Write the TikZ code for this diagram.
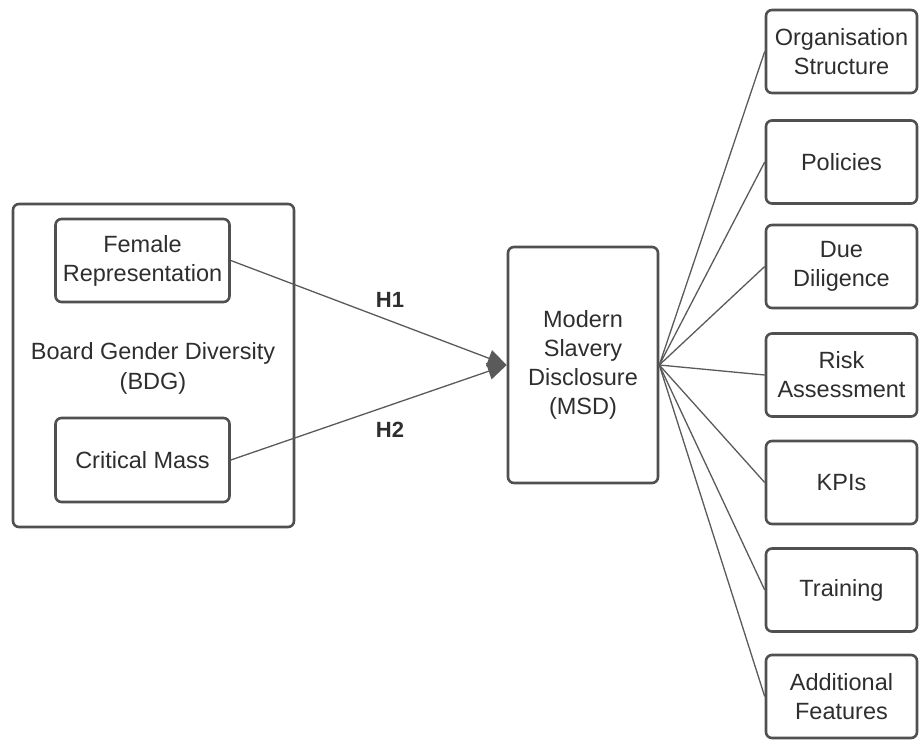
\documentclass[tikz,border=0pt]{standalone}
\usepackage{fontspec}
\setmainfont{Liberation Sans}
\usepackage{tikz}
\usetikzlibrary{arrows.meta}
\definecolor{boxgray}{HTML}{505050}
\definecolor{linegray}{HTML}{5A5A5A}
\definecolor{txtgray}{HTML}{2E2E2E}
\tikzstyle{framebox} = [draw=boxgray, line width=2.6pt, rectangle,
    rounded corners=6pt, text=txtgray, align=center, inner sep=0pt,
    font=\fontsize{23.5}{29}\selectfont]
\tikzstyle{itembox} = [framebox, minimum width=151pt, minimum height=83pt]
\tikzstyle{spoke} = [draw=linegray, line width=1.3pt]
\tikzstyle{hypo} = [draw=linegray, line width=1.3pt,
    -{Triangle[length=19pt,width=17pt]}, color=linegray]
\tikzstyle{hlabel} = [text=txtgray, font=\fontsize{22}{26}\selectfont\bfseries]

\begin{document}
\begin{tikzpicture}[x=1pt,y=-1pt]
\useasboundingbox (0,0) rectangle (921,739);
% left block
\node [framebox, minimum width=281pt, minimum height=323pt] (bdg) at (153.5,365.5) {};
\node [framebox, minimum width=174pt, minimum height=83pt] (female) at (142.5,260.5) {Female\\Representation};
\node [framebox, minimum width=174pt, minimum height=84pt] (critical) at (142.5,460) {Critical Mass};
\node [text=txtgray, align=center, font=\fontsize{23.5}{30}\selectfont] (bdglabel) at (153,368) {Board Gender Diversity\\(BDG)};
% centre block
\node [framebox, minimum width=150pt, minimum height=236pt] (msd) at (583,365) {Modern\\Slavery\\Disclosure\\(MSD)};
% items of the disclosure
\node [itembox] (orgstruct) at (841.5,51.5) {Organisation\\Structure};
\node [itembox] (policies) at (841.5,162) {Policies};
\node [itembox] (duedil) at (841.5,266.5) {Due\\Diligence};
\node [itembox] (risk) at (841.5,375) {Risk\\Assessment};
\node [itembox] (kpis) at (841.5,482.5) {KPIs};
\node [itembox] (training) at (841.5,590) {Training};
\node [itembox] (additional) at (841.5,696.5) {Additional\\Features};
% hypotheses
\draw [hypo] (female.east) -- (msd.west);
\draw [hypo] (critical.east) -- (msd.west);
\node [hlabel] (hone) at (390,300) {H1};
\node [hlabel] (htwo) at (390,430) {H2};
% spokes
\draw [spoke] (msd.east) -- (orgstruct.west);
\draw [spoke] (msd.east) -- (policies.west);
\draw [spoke] (msd.east) -- (duedil.west);
\draw [spoke] (msd.east) -- (risk.west);
\draw [spoke] (msd.east) -- (kpis.west);
\draw [spoke] (msd.east) -- (training.west);
\draw [spoke] (msd.east) -- (additional.west);
\end{tikzpicture}
\end{document}
